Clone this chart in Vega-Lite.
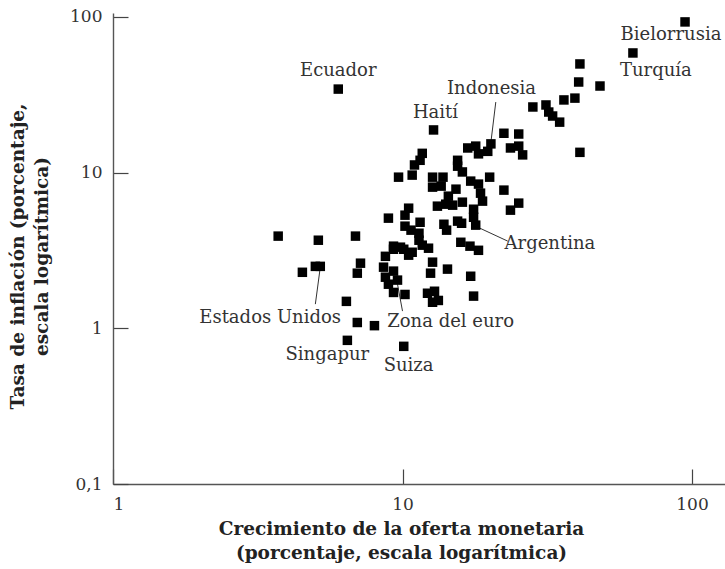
{
  "$schema": "https://vega.github.io/schema/vega-lite/v6.json",
  "width": 612,
  "height": 471,
  "autosize": "none",
  "padding": {"left": 113, "top": 13, "right": 0, "bottom": 85},
  "background": "white",
  "config": {
    "view": {"stroke": null},
    "font": "DejaVu Serif",
    "axis": {
      "grid": false,
      "domainColor": "#555555",
      "domainWidth": 1.4,
      "tickColor": "#444444",
      "tickWidth": 1.2,
      "tickSize": -15,
      "labelFont": "DejaVu Serif",
      "labelFontSize": 17,
      "labelColor": "#333333",
      "titleFont": "DejaVu Serif",
      "titleFontWeight": "bold",
      "titleFontSize": 18.5,
      "titleColor": "#222222",
      "titleLineHeight": 24
    }
  },
  "datasets": {
    "points": [
      {"x": 94.6, "y": 92.9}, {"x": 62.5, "y": 58.7}, {"x": 41.0, "y": 49.9}, {"x": 40.6, "y": 38.2},
      {"x": 48.1, "y": 36.0}, {"x": 39.4, "y": 30.1}, {"x": 36.1, "y": 29.3}, {"x": 31.3, "y": 27.2},
      {"x": 28.2, "y": 26.4}, {"x": 32.0, "y": 24.5}, {"x": 33.0, "y": 23.1}, {"x": 34.9, "y": 21.1},
      {"x": 41.0, "y": 13.5}, {"x": 22.4, "y": 17.9}, {"x": 25.2, "y": 17.7}, {"x": 23.6, "y": 14.4},
      {"x": 25.2, "y": 14.8}, {"x": 26.0, "y": 13.0}, {"x": 20.2, "y": 15.3}, {"x": 19.7, "y": 13.7},
      {"x": 20.0, "y": 9.35}, {"x": 22.4, "y": 7.72}, {"x": 12.8, "y": 18.8}, {"x": 16.8, "y": 14.4},
      {"x": 17.9, "y": 14.8}, {"x": 18.3, "y": 13.2}, {"x": 11.7, "y": 13.3}, {"x": 11.5, "y": 12.0},
      {"x": 11.0, "y": 11.2}, {"x": 10.8, "y": 9.64}, {"x": 9.69, "y": 9.35}, {"x": 15.5, "y": 12.0},
      {"x": 15.5, "y": 11.0}, {"x": 16.1, "y": 10.1}, {"x": 12.7, "y": 9.35}, {"x": 13.8, "y": 9.35},
      {"x": 12.7, "y": 8.07}, {"x": 13.6, "y": 8.19}, {"x": 17.2, "y": 8.82}, {"x": 18.3, "y": 8.44},
      {"x": 18.6, "y": 7.38}, {"x": 18.9, "y": 6.56}, {"x": 15.3, "y": 7.83}, {"x": 14.4, "y": 7.06},
      {"x": 16.1, "y": 6.46}, {"x": 13.2, "y": 6.09}, {"x": 14.1, "y": 6.27}, {"x": 14.9, "y": 6.18},
      {"x": 17.6, "y": 5.82}, {"x": 17.6, "y": 5.17}, {"x": 17.9, "y": 4.60}, {"x": 23.6, "y": 5.74},
      {"x": 25.2, "y": 6.37}, {"x": 10.5, "y": 5.91}, {"x": 10.2, "y": 5.33}, {"x": 8.94, "y": 5.10},
      {"x": 10.2, "y": 4.53}, {"x": 10.7, "y": 4.27}, {"x": 11.5, "y": 4.80}, {"x": 11.4, "y": 4.08},
      {"x": 13.9, "y": 4.66}, {"x": 14.2, "y": 4.27}, {"x": 15.5, "y": 4.88}, {"x": 16.0, "y": 4.73},
      {"x": 6.88, "y": 3.91}, {"x": 3.72, "y": 3.91}, {"x": 5.12, "y": 3.68}, {"x": 9.31, "y": 3.37},
      {"x": 9.84, "y": 3.32}, {"x": 11.7, "y": 3.42}, {"x": 12.3, "y": 3.27}, {"x": 15.9, "y": 3.57},
      {"x": 17.1, "y": 3.37}, {"x": 18.3, "y": 3.17}, {"x": 4.51, "y": 2.29}, {"x": 5.00, "y": 2.50},
      {"x": 5.20, "y": 2.50}, {"x": 7.16, "y": 2.62}, {"x": 6.98, "y": 2.26}, {"x": 8.73, "y": 2.90},
      {"x": 8.60, "y": 2.47}, {"x": 8.73, "y": 2.13}, {"x": 8.94, "y": 1.92}, {"x": 9.31, "y": 1.70},
      {"x": 9.31, "y": 2.33}, {"x": 9.61, "y": 2.04}, {"x": 10.1, "y": 3.22}, {"x": 10.5, "y": 2.95},
      {"x": 10.2, "y": 1.65}, {"x": 12.7, "y": 2.66}, {"x": 12.5, "y": 2.26}, {"x": 14.3, "y": 2.40},
      {"x": 17.2, "y": 2.16}, {"x": 17.6, "y": 1.61}, {"x": 12.2, "y": 1.68}, {"x": 12.9, "y": 1.73},
      {"x": 13.3, "y": 1.51}, {"x": 12.7, "y": 1.47}, {"x": 6.40, "y": 1.49}, {"x": 6.98, "y": 1.09},
      {"x": 8.00, "y": 1.04}, {"x": 6.45, "y": 0.837}, {"x": 10.1, "y": 0.766}, {"x": 6.0, "y": 34.4},
      {"x": 10.8, "y": 3.08}, {"x": 11.4, "y": 3.68}, {"x": 9.31, "y": 3.22}
    ],
    "labels": [
      {"x": 84.6, "y": 76.6, "text": "Bielorrusia"},
      {"x": 75.0, "y": 45.0, "text": "Turquía"},
      {"x": 6.0, "y": 45.0, "text": "Ecuador"},
      {"x": 20.3, "y": 34.4, "text": "Indonesia"},
      {"x": 13.0, "y": 24.1, "text": "Haití"},
      {"x": 32.3, "y": 3.47, "text": "Argentina"},
      {"x": 3.49, "y": 1.16, "text": "Estados Unidos"},
      {"x": 14.66, "y": 1.09, "text": "Zona del euro"},
      {"x": 5.5, "y": 0.67, "text": "Singapur"},
      {"x": 10.5, "y": 0.57, "text": "Suiza"}
    ],
    "leaders": [
      {"x": 21.0, "y": 28.4, "x2": 20.2, "y2": 15.7},
      {"x": 18.2, "y": 4.46, "x2": 23.1, "y2": 3.63},
      {"x": 5.2, "y": 2.47, "x2": 5.0, "y2": 1.43},
      {"x": 9.61, "y": 1.92, "x2": 10.0, "y2": 1.29}
    ]
  },
  "layer": [
    {
      "data": {"name": "leaders"},
      "mark": {"type": "rule", "color": "#333333", "strokeWidth": 1},
      "encoding": {
        "x": {"field": "x", "type": "quantitative", "scale": {"type": "log", "domain": [1, 130]}},
        "y": {"field": "y", "type": "quantitative", "scale": {"type": "log", "domain": [0.1, 106]}},
        "x2": {"field": "x2"},
        "y2": {"field": "y2"}
      }
    },
    {
      "data": {"name": "points"},
      "mark": {"type": "point", "shape": "square", "filled": true, "color": "#000000", "opacity": 1, "size": 90, "strokeWidth": 0},
      "encoding": {
        "x": {
          "field": "x", "type": "quantitative",
          "scale": {"type": "log", "domain": [1, 130], "nice": false},
          "axis": {
            "values": [1, 10, 100],
            "labelPadding": 27,
            "labelExpr": "replace(format(datum.value, '~g'), '.', ',')",
            "title": ["Crecimiento de la oferta monetaria", "(porcentaje, escala logarítmica)"],
            "titleX": 288,
            "titleY": 35,
            "titleBaseline": "top",
            "titleAnchor": "middle"
          }
        },
        "y": {
          "field": "y", "type": "quantitative",
          "scale": {"type": "log", "domain": [0.1, 106], "nice": false},
          "axis": {
            "values": [0.1, 1, 10, 100],
            "labelPadding": 26,
            "labelExpr": "replace(format(datum.value, '~g'), '.', ',')",
            "title": ["Tasa de inflación (porcentaje,", "escala logarítmica)"],
            "titleX": -105,
            "titleY": 243,
            "titleBaseline": "top",
            "titleAnchor": "middle"
          }
        }
      }
    },
    {
      "data": {"name": "labels"},
      "mark": {"type": "text", "font": "DejaVu Serif", "fontSize": 18, "color": "#333333", "align": "center", "baseline": "middle"},
      "encoding": {
        "x": {"field": "x", "type": "quantitative"},
        "y": {"field": "y", "type": "quantitative"},
        "text": {"field": "text"}
      }
    }
  ]
}
